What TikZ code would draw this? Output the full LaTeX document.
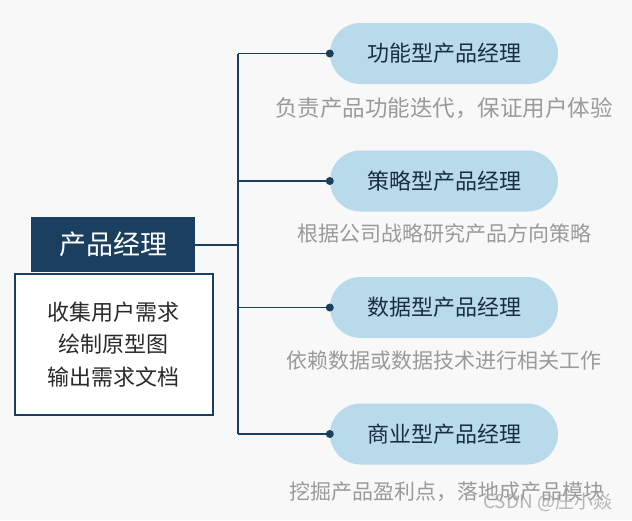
\documentclass[tikz,border=0pt]{standalone}
\usepackage{fontspec}
\setmainfont{Noto Sans CJK SC}
\newfontfamily\cjk{Noto Sans CJK SC}
\begin{document}
\begin{tikzpicture}[x=1pt,y=-1pt,
  every node/.style={inner sep=0pt, font=\cjk},
  navyline/.style={draw=navy, line width=1.8pt},
  pill/.style={fill=pillblue, rounded corners=30.5pt, minimum width=228pt, minimum height=61pt, text=navytext, font=\cjk\fontsize{22}{26}\selectfont},
  sub/.style={text=subgray, font=\cjk\fontsize{21}{25}\selectfont},
  dotmark/.style={circle, fill=navy, minimum size=8pt, inner sep=0pt}
]
\definecolor{navy}{HTML}{1B3F5F}
\definecolor{navytext}{HTML}{1A2E42}
\definecolor{pillblue}{HTML}{B9DAEB}
\definecolor{subgray}{HTML}{9A9A9A}
\definecolor{bg}{HTML}{F8F8F8}
\definecolor{bodytext}{HTML}{2A2A2A}
\fill[bg] (0,0) rectangle (632,520);
\useasboundingbox (0,0) rectangle (632,520);

% left boxes
\node[draw=navy, line width=1.5pt, fill=white, minimum width=198pt, minimum height=141pt, anchor=north west, align=center, text=bodytext, font=\cjk\fontsize{22}{32.5}\selectfont] (body) at (14,273) {收集用户需求\\绘制原型图\\输出需求文档};
\node[fill=navy, minimum width=164pt, minimum height=55pt, anchor=north west, text=white, font=\cjk\fontsize{27}{30}\selectfont] (title) at (31,217) {产品经理};

% pills
\node[pill] (p1) at (444,53.5) {功能型产品经理};
\node[pill] (p2) at (444,181) {策略型产品经理};
\node[pill] (p3) at (444,307.5) {数据型产品经理};
\node[pill] (p4) at (444,434) {商业型产品经理};

% subtitles
\node[sub, font=\cjk\fontsize{22.5}{26}\selectfont] (s1) at (444,108) {负责产品功能迭代，保证用户体验};
\node[sub] (s2) at (444,234) {根据公司战略研究产品方向策略};
\node[sub] (s3) at (444,361) {依赖数据或数据技术进行相关工作};
\node[sub] (s4) at (447,492) {挖掘产品盈利点，落地成产品模块};

% trunk
\coordinate (t1) at (238,53.5);
\coordinate (t4) at (238,434);
\draw[navyline] (t1) -- (t4);
\draw[navyline] (title.east) -- (title.east -| t1);
\foreach \i in {1,2,3,4}{
  \draw[navyline] (p\i.west -| t1) -- (p\i.west);
  \node[dotmark] (d\i) at (p\i.west) {};
}

% watermark
\node[text=black!35, opacity=0.8, font=\cjk\fontsize{19}{22}\selectfont, anchor=west] (wm) at (483,502) {CSDN @庄小焱};
\end{tikzpicture}
\end{document}
